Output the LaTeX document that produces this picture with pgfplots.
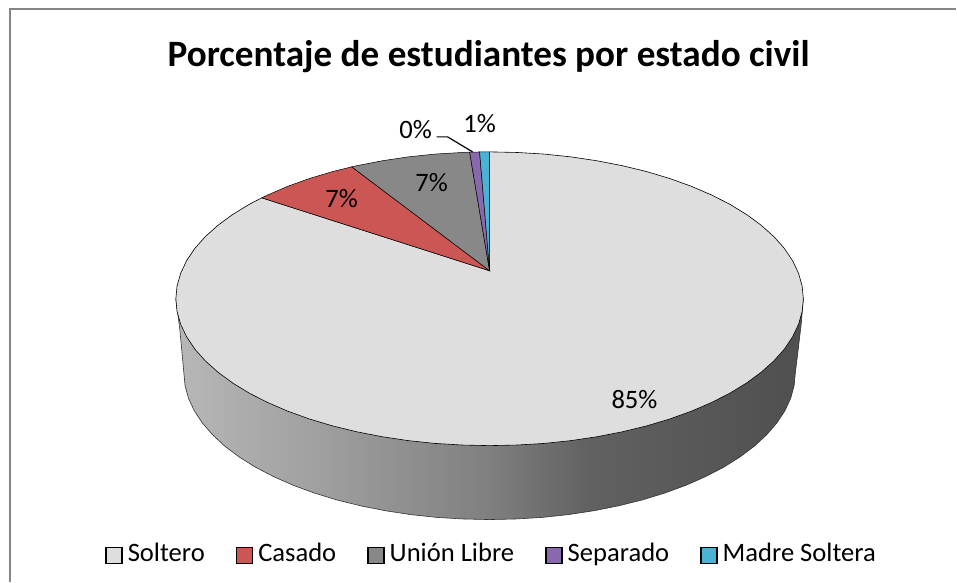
\documentclass[border=0pt]{standalone}
\usepackage{pgfplots}
\pgfplotsset{compat=1.18}
\usepackage{fontspec}
\setmainfont{Carlito}
\definecolor{topc}{HTML}{DEDEDE}
\definecolor{redc}{HTML}{CB5654}
\definecolor{greyc}{HTML}{888888}
\definecolor{purc}{HTML}{8A68AE}
\definecolor{cyac}{HTML}{4AB3D3}
\definecolor{framec}{HTML}{868686}
\pgfdeclarehorizontalshading{wall}{100bp}{rgb(0bp)=(0.72,0.72,0.72);rgb(25bp)=(0.72,0.72,0.72);rgb(37bp)=(0.62,0.62,0.62);rgb(50bp)=(0.50,0.50,0.50);rgb(58bp)=(0.38,0.38,0.38);rgb(75bp)=(0.31,0.31,0.31);rgb(100bp)=(0.31,0.31,0.31)}
\begin{document}
\begin{tikzpicture}
\begin{axis}[
  scale only axis, width=957pt, height=582pt,
  xmin=0, xmax=957, ymin=0, ymax=582, y dir=reverse,
  hide axis, clip=false,
  legend columns=5,
  legend cell align=left,
  legend style={at={(axis cs:491,554)}, anchor=center, draw=none, fill=none,
    font=\fontsize{26.6}{30}\selectfont,
    inner sep=0pt,
    nodes={inner sep=0pt, anchor=mid west},
    /tikz/every even column/.append style={column sep=31pt},
    /tikz/every odd column/.append style={column sep=5pt}},
  legend image code/.code={\draw[#1] (0pt,-5pt) rectangle (16pt,11pt);},
]
% canvas and frame
\addplot[forget plot, draw=none, fill=white] coordinates {(0,0)(957,0)(957,582)(0,582)} -- cycle;
\addplot[forget plot, draw=framec, line width=1.6pt] coordinates {(10,582)(10,9)(957,9)};
% side wall
\addplot[forget plot, shade, shading=wall, draw=black!80, line width=0.6pt] coordinates {
(804,299)(802,323)(798,357)(796,373)(794.8,385.8)(791.4,398.5)(785.6,411)(777.5,423.3)(767.3,435.1)(755,446.5)(740.7,457.3)(724.4,467.5)(706.4,476.9)(686.7,485.6)(665.5,493.4)(643,500.3)(619.3,506.2)(594.7,511.1)(569.2,515)(543.1,517.8)(516.7,519.4)(490,520)
(463.3,519.4)(436.9,517.8)(410.8,515)(385.3,511.1)(360.7,506.2)(337,500.3)(314.5,493.4)(293.3,485.6)(273.6,476.9)(255.6,467.5)(239.3,457.3)(225,446.5)(212.7,435.1)(202.5,423.3)(194.4,411)(188.6,398.5)(185.2,385.8)(184,373)(180,330)(176,299)
} -- cycle;
% Soltero
\addplot[forget plot, fill=topc, draw=black, line width=0.6pt] coordinates {
(490,271)(490,152)(517.4,152.6)(544.5,154.2)(571.3,157.0)(597.4,160.9)(622.7,165.8)(647.0,171.7)(670.1,178.6)(691.8,186.4)(712.0,195.1)(730.5,204.5)(747.2,214.7)(761.9,225.5)(774.6,236.9)(785.1,248.7)(793.3,261.0)(799.2,273.5)(802.8,286.2)(804,299)
(802.8,311.8)(799.2,324.5)(793.3,337.0)(785.1,349.3)(774.6,361.1)(761.9,372.5)(747.2,383.3)(730.5,393.5)(712.0,402.9)(691.8,411.6)(670.1,419.4)(647.0,426.3)(622.7,432.2)(597.4,437.1)(571.3,441.0)(544.5,443.8)(517.4,445.4)(490,446)
(462.6,445.4)(435.5,443.8)(408.7,441.0)(382.6,437.1)(357.3,432.2)(333.0,426.3)(309.9,419.4)(288.2,411.6)(268.0,402.9)(249.5,393.5)(232.8,383.3)(218.1,372.5)(205.4,361.1)(194.9,349.3)(186.7,337.0)(180.8,324.5)(177.2,311.8)(176,299)
(177.2,286.2)(180.8,273.5)(186.7,261.0)(194.9,248.7)(205.4,236.9)(218.1,225.5)(232.8,214.7)(249.5,204.5)(262,198)
} -- cycle;
% Casado
\addplot[forget plot, fill=redc, draw=black, line width=0.5pt] coordinates {(490,271)(262,198)(268.0,195.1)(288.2,186.4)(309.9,178.6)(333,171.7)(352,167)} -- cycle;
% Union Libre
\addplot[forget plot, fill=greyc, draw=black, line width=0.5pt] coordinates {(490,271)(352,167)(357.3,165.8)(382.6,160.9)(408.7,157.0)(435.5,154.2)(462.6,152.6)(470,152.3)} -- cycle;
% Separado
\addplot[forget plot, fill=purc, draw=black, line width=0.5pt] coordinates {(490,271)(470,152.3)(480,152.1)} -- cycle;
% Madre Soltera
\addplot[forget plot, fill=cyac, draw=black, line width=0.5pt] coordinates {(490,271)(480,152.1)(490,152)} -- cycle;
% leader line
\addplot[forget plot, draw=black, line width=1.2pt] coordinates {(437,137)(448,137)(473,152)};
% legend
\addlegendimage{fill=topc, draw=black, line width=1.5pt}
\addlegendentry{Soltero}
\addlegendimage{fill=redc, draw=black, line width=1.5pt}
\addlegendentry{Casado}
\addlegendimage{fill=greyc, draw=black, line width=1.5pt}
\addlegendentry{Unión Libre}
\addlegendimage{fill=purc, draw=black, line width=1.5pt}
\addlegendentry{Separado}
\addlegendimage{fill=cyac, draw=black, line width=1.5pt}
\addlegendentry{Madre Soltera}
% text
\node[font=\fontsize{37.2}{42}\selectfont\bfseries, anchor=center] at (axis cs:489,57) {Porcentaje de estudiantes por estado civil};
\node[font=\fontsize{26.6}{30}\selectfont] at (axis cs:416,130) {0\%};
\node[font=\fontsize{26.6}{30}\selectfont] at (axis cs:480,124) {1\%};
\node[font=\fontsize{26.6}{30}\selectfont] at (axis cs:342,199) {7\%};
\node[font=\fontsize{26.6}{30}\selectfont] at (axis cs:432,183) {7\%};
\node[font=\fontsize{26.6}{30}\selectfont] at (axis cs:635,400) {85\%};
\end{axis}
\end{tikzpicture}
\end{document}
